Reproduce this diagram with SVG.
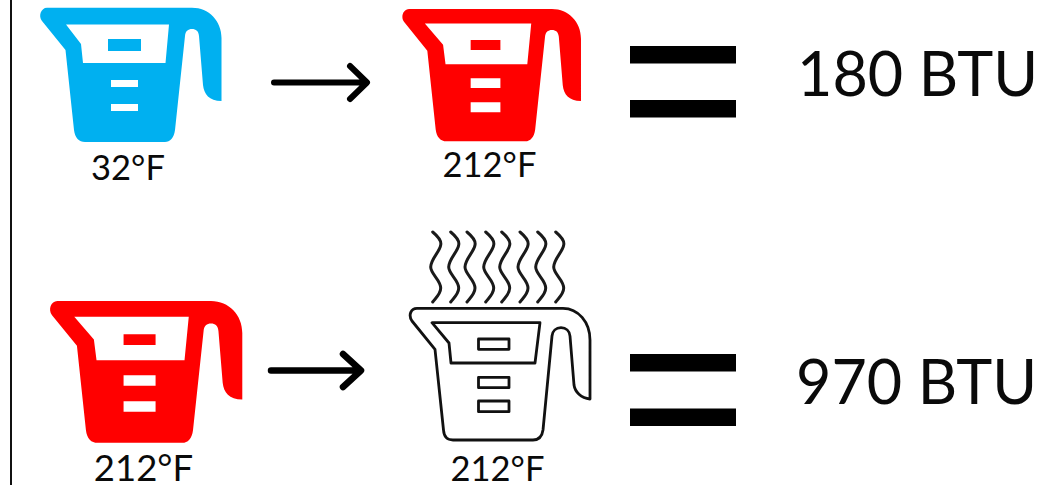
<svg xmlns="http://www.w3.org/2000/svg" width="1064" height="485" viewBox="0 0 1064 485">
<style>
text{font-family:"Lato","Liberation Sans",sans-serif;fill:#0a0a0a}
.t{font-size:34.500px;text-anchor:middle}
.b{font-size:61px}
.bar{fill:#000}
.ar{fill:none;stroke:#000;stroke-linecap:round;stroke-linejoin:round}
.st{fill:none;stroke:#1a1a1a;stroke-width:3;stroke-linecap:round}
.ol{fill:none;stroke:#111;stroke-width:2.800;stroke-linejoin:round}
</style>
<defs>
<path id="jug" fill-rule="evenodd" d="M47 7.700H192C209 7.700 221.500 21 221.500 38V101C209 101 204 94 203 85L199 36C198.500 31 196 29 192 29C188 29 185.500 31 185 36L175 130C174 138 170 142 165 142H85C79 142 75 138 74 130L65.500 50L42 21C38 16 41 7.700 47 7.700ZM66 24.500L81 44L83 63H165.500L169 24.500ZM108 39V51H141V39ZM111 80V87H138V80ZM111 104V111H138V104Z"/>
<path id="jug2" fill-rule="evenodd" d="M47 7.700H192C209 7.700 221.500 21 221.500 38V101C209 101 204 94 203 85L199 36C198.500 31 196 29 192 29C188 29 185.500 31 185 36L175 130C174 138 170 142 165 142H85C79 142 75 138 74 130L65.500 50L42 21C38 16 41 7.700 47 7.700ZM63 22.400L81.500 44L84 63.700H167L171 22.400ZM109.500 39.200V49.300H139.700V39.200ZM109.500 78V88H139.700V78ZM109.500 102.500V112.500H139.700V102.500Z"/>
<path id="wave" d="M0 0C6 5 9 9 8 13C7 20 -2 27 -2 35C-2 42 8 48 8 56C8 62 3 66 0 70"/>
</defs>
<g id="border"><line x1="11" y1="0" x2="11" y2="485" stroke="#111" stroke-width="2"/></g>
<g id="jug-blue"><use href="#jug" fill="#00B0F0"/><text class="t" x="128" y="180">32°F</text></g>
<g id="jug-red-top"><use href="#jug2" fill="#F00" transform="translate(362.800 1.400) scale(.985)"/><text class="t" x="489.500" y="177">212°F</text></g>
<g id="jug-red-bottom"><use href="#jug2" fill="#F00" transform="translate(7.500 293) scale(1.060 1.055)"/><text class="t" x="143.500" y="480.500" style="font-size:36.500px">212°F</text></g>
<g id="jug-steam">
<path class="ol" d="M417 308.300H563C578 308.300 590 322 590 340V399C581 398 575 392 574 385L570 336C569.500 331 566 327.700 561 327.700C556 327.700 552.500 331 552 336L543 430C542 437 538 440 533 440H453C448 440 444 437 443.500 430L435 349.300L412 321C408 315 411 308.300 417 308.300ZM432 322.700H540L535 363H451L449 343ZM478.500 339H509V349.300H478.500ZM478.500 377.300H509V387.700H478.500ZM478.500 401H509V411.700H478.500Z"/>
<g>
<use href="#wave" class="st" x="432.700" y="232"/><use href="#wave" class="st" x="450.700" y="232"/><use href="#wave" class="st" x="467" y="232"/><use href="#wave" class="st" x="485.700" y="232"/><use href="#wave" class="st" x="501.700" y="232"/><use href="#wave" class="st" x="520" y="232"/><use href="#wave" class="st" x="537.700" y="232"/><use href="#wave" class="st" x="555.700" y="232"/>
</g>
<text class="t" x="497.500" y="481">212°F</text></g>
<g id="connectors">
<path class="ar" stroke-width="6" d="M274 82.500H366M350 66L367 82.500L350 99"/>
<path class="ar" stroke-width="6.500" d="M271 370.500H360M343 354L361 370.500L343 387"/>
</g>
<g id="equals-top"><rect class="bar" x="630" y="46" width="106" height="17.500"/><rect class="bar" x="630" y="100" width="106" height="17.500"/></g>
<g id="equals-bottom"><rect class="bar" x="630" y="354" width="106" height="17.500"/><rect class="bar" x="630" y="408.500" width="106" height="17.500"/></g>
<g id="label-180"><text class="b" x="797" y="96">180 BTU</text></g>
<g id="label-970"><text class="b" x="796" y="404">970 BTU</text></g>
</svg>
